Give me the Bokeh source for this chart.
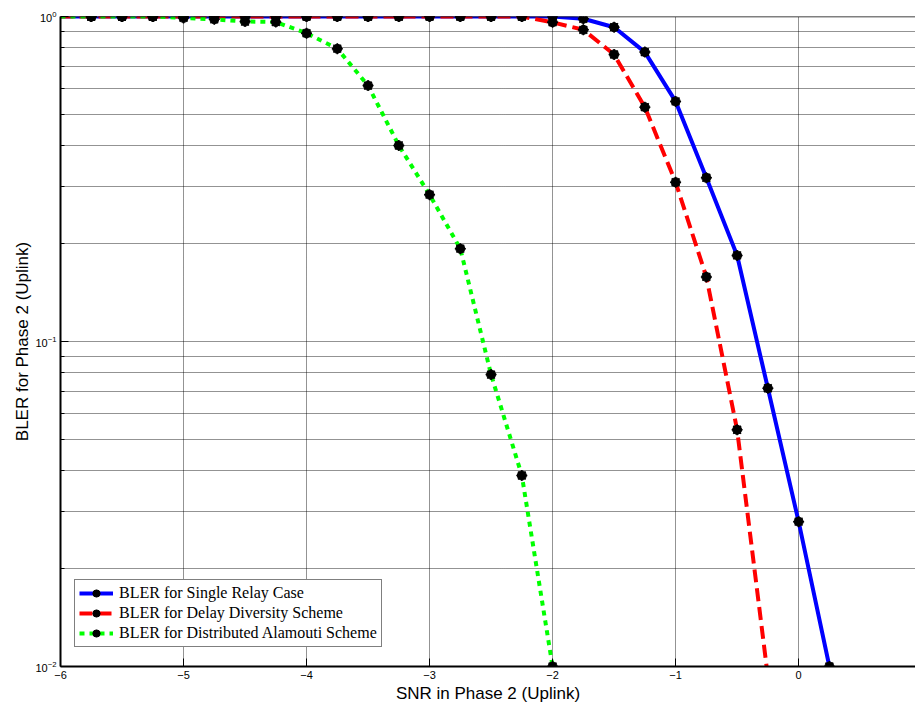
from bokeh.plotting import figure
from bokeh.models import FixedTicker, Legend, LegendItem, Range1d, Span
from bokeh.embed import file_html
from bokeh.resources import INLINE

# ---- data ----
snr_single = [-6, -5.75, -5.5, -5.25, -5, -4.75, -4.5, -4.25, -4, -3.75, -3.5, -3.25,
              -3, -2.75, -2.5, -2.25, -2, -1.75, -1.5, -1.25, -1, -0.75, -0.5, -0.25, 0, 0.25]
bler_single = [1.0, 1.0, 1.0, 1.0, 1.0, 1.0, 1.0, 1.0, 1.0, 1.0, 1.0, 1.0,
               1.0, 1.0, 1.0, 1.0, 1.0, 0.984, 0.927, 0.777, 0.548, 0.319, 0.184, 0.0718, 0.0279, 0.0100]

snr_delay = [-6, -5.75, -5.5, -5.25, -5, -4.75, -4.5, -4.25, -4, -3.75, -3.5, -3.25,
             -3, -2.75, -2.5, -2.25, -2, -1.75, -1.5, -1.25, -1, -0.75, -0.5, -0.25]
bler_delay = [1.0, 1.0, 1.0, 1.0, 1.0, 1.0, 1.0, 1.0, 1.0, 1.0, 1.0, 1.0,
              1.0, 1.0, 1.0, 1.0, 0.96, 0.91, 0.764, 0.526, 0.309, 0.158, 0.0535, 0.0093]

snr_alamouti = [-6, -5.75, -5.5, -5.25, -5, -4.75, -4.5, -4.25, -4, -3.75, -3.5, -3.25,
                -3, -2.75, -2.5, -2.25, -2]
bler_alamouti = [1.0, 1.0, 1.0, 1.0, 0.99, 0.98, 0.965, 0.962, 0.888, 0.796, 0.613, 0.401,
                 0.283, 0.193, 0.0791, 0.0387, 0.0100]

x_ticks = [-6, -5, -4, -3, -2, -1, 0]
y_ticks = [0.01, 0.1, 1]
y_minor = [0.02, 0.03, 0.04, 0.05, 0.06, 0.07, 0.08, 0.09,
           0.2, 0.3, 0.4, 0.5, 0.6, 0.7, 0.8, 0.9]
y_tick_labels = {"1": "10\u2070", "0.1": "10\u207b\u00b9", "0.01": "10\u207b\u00b2"}

labels = ["BLER for Single Relay Case",
          "BLER for Delay Diversity Scheme",
          "BLER for Distributed Alamouti Scheme"]

# ---- figure ----
p = figure(width=915, height=708,
           x_range=Range1d(-6, 0.95), y_range=Range1d(0.01, 1),
           y_axis_type="log", output_backend="svg", toolbar_location=None,
           min_border_left=60, min_border_right=0, min_border_top=16, min_border_bottom=42)
p.outline_line_color = None
p.background_fill_color = "white"
p.border_fill_color = "white"

grid_col = "#000000"
for g in (p.xgrid, p.ygrid):
    g.grid_line_color = grid_col
    g.grid_line_alpha = 0.85
    g.grid_line_dash = "1 1"
    g.grid_line_width = 1
p.xgrid.ticker = FixedTicker(ticks=x_ticks)
p.ygrid.ticker = FixedTicker(ticks=y_ticks, minor_ticks=y_minor)
p.ygrid.minor_grid_line_color = grid_col
p.ygrid.minor_grid_line_alpha = 0.85
p.ygrid.minor_grid_line_dash = "1 1"

# x axis
xa = p.xaxis[0]
xa.ticker = FixedTicker(ticks=x_ticks)
xa.axis_line_width = 2
xa.axis_line_color = "black"
xa.major_tick_in = 8
xa.major_tick_out = 0
xa.major_tick_line_color = "black"
xa.minor_tick_line_color = None
xa.major_label_text_font = "Liberation Sans"
xa.major_label_text_font_size = "11px"
xa.major_label_text_color = "black"
xa.major_label_standoff = 4
xa.axis_label = "SNR in Phase 2 (Uplink)"
xa.axis_label_text_font = "Liberation Sans"
xa.axis_label_text_font_size = "17px"
xa.axis_label_text_font_style = "normal"
xa.axis_label_text_color = "black"
xa.axis_label_standoff = 2

# y axis
ya = p.yaxis[0]
ya.ticker = FixedTicker(ticks=y_ticks, minor_ticks=y_minor)
ya.major_label_overrides = y_tick_labels
ya.axis_line_width = 2
ya.axis_line_color = "black"
ya.major_tick_in = 8
ya.major_tick_out = 0
ya.minor_tick_in = 4
ya.minor_tick_out = 0
ya.major_label_text_font = "Liberation Sans"
ya.major_label_text_font_size = "11px"
ya.major_label_text_color = "black"
ya.major_label_standoff = 4
ya.axis_label = "BLER for Phase 2 (Uplink)"
ya.axis_label_text_font = "Liberation Sans"
ya.axis_label_text_font_size = "17px"
ya.axis_label_text_font_style = "normal"
ya.axis_label_text_color = "black"
ya.axis_label_standoff = 0

# top border of the axes box
p.add_layout(Span(location=1, dimension="width", line_color="black", line_width=1.5))

# ---- series ----
def series(xs, ys, color, dash):
    ln = p.line(xs, ys, line_color=color, line_width=4, line_dash=dash)
    c = p.scatter(xs[1:], ys[1:], marker="circle", size=9, fill_color="black",
                  line_color="black")
    a = p.scatter(xs[1:], ys[1:], marker="asterisk", size=11, line_color="black",
                  line_width=1.5)
    return [ln, c, a]

r1 = series(snr_single, bler_single, "#0000ff", "solid")
r2 = series(snr_delay, bler_delay, "#ff0000", "13 6")
r3 = series(snr_alamouti, bler_alamouti, "#00ff00", "5 5")

legend = Legend(items=[LegendItem(label=labels[0], renderers=r1),
                       LegendItem(label=labels[1], renderers=r2),
                       LegendItem(label=labels[2], renderers=r3)],
                location=(14, 19), margin=0, padding=4, spacing=2,
                glyph_height=18, glyph_width=34, label_height=18, label_standoff=6,
                label_text_font="Liberation Serif", label_text_font_size="16px",
                label_text_color="black",
                border_line_color="black", border_line_width=1.5,
                background_fill_color="white", background_fill_alpha=1)
p.add_layout(legend)

open("out.html", "w").write(file_html(p, INLINE))
